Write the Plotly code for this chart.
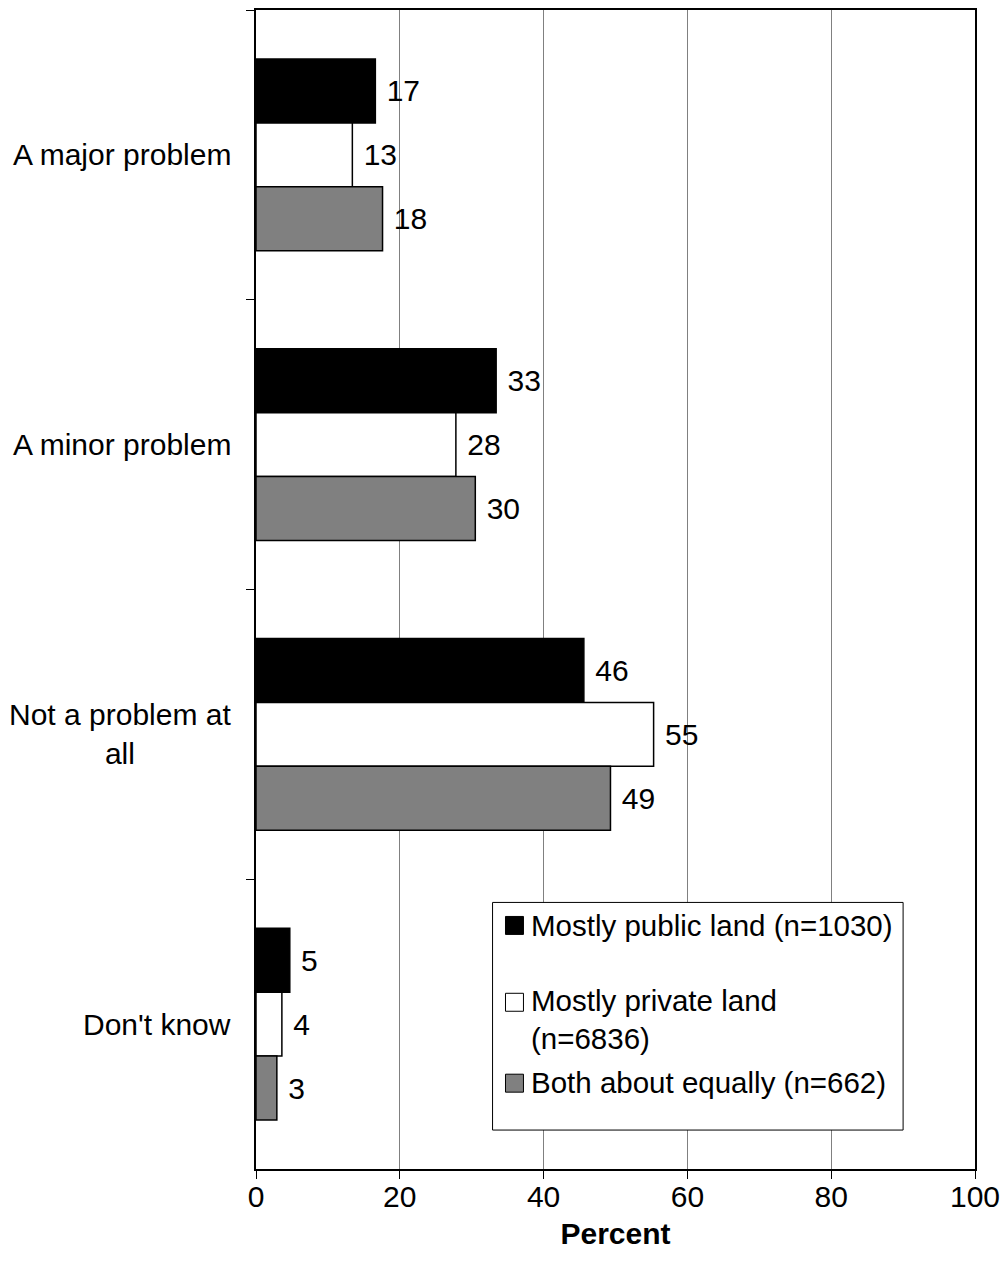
import plotly.graph_objects as go

# Survey categories, top to bottom
categories = ["A major problem", "A minor problem", "Not a problem at all", "Don't know"]
category_labels = ["A major problem", "A minor problem", "Not a problem at<br>all", "Don't know"]

# Series (percent)
series_names = ["Mostly public land (n=1030)", "Mostly private land<br>(n=6836)", "Both about equally (n=662)"]
public_vals = [16.6, 33.4, 45.6, 4.7]
private_vals = [13.4, 27.8, 55.3, 3.6]
both_vals = [17.6, 30.5, 49.3, 2.9]
public_labels = [17, 33, 46, 5]
private_labels = [13, 28, 55, 4]
both_labels = [18, 30, 49, 3]

x_ticks = [0, 20, 40, 60, 80, 100]

FONT = "Liberation Sans, Arial, sans-serif"
FS = 30
colors = ["#000000", "#ffffff", "#808080"]

fig = go.Figure()
for name, vals, labels, col in zip(series_names,
                                   [public_vals, private_vals, both_vals],
                                   [public_labels, private_labels, both_labels],
                                   colors):
    fig.add_trace(go.Bar(
        x=vals, y=categories, orientation="h", name=name,
        marker=dict(color=col, line=dict(color="black", width=1.5)),
        text=[str(v) for v in labels], texttemplate=" %{text}",
        textposition="outside", constraintext="none", cliponaxis=False,
        textfont=dict(family=FONT, size=FS, color="black"),
        showlegend=False,
    ))

# category labels, centred block, right-aligned to the axis
for cat, lab in zip(categories, category_labels):
    fig.add_annotation(x=-0.032, xref="paper", y=cat, yref="y", text=lab,
                       xanchor="right", yanchor="middle", align="center",
                       showarrow=False, font=dict(family=FONT, size=FS, color="black"))

# hand-drawn legend box
fig.add_shape(type="rect", xref="paper", yref="paper", x0=0.329, x1=0.9, y0=0.0336, y1=0.230,
              fillcolor="white", line=dict(color="black", width=1), layer="above")
sq_y = [(0.2179, 0.2024), (0.1516, 0.1361), (0.0818, 0.0663)]
txt_y = [0.2102, 0.1288, 0.0749]
for name, col, (ya, yb), ty in zip(series_names, colors, sq_y, txt_y):
    fig.add_shape(type="rect", xref="paper", yref="paper", x0=0.347, x1=0.372, y0=yb, y1=ya,
                  fillcolor=col, line=dict(color="black", width=1), layer="above")
    fig.add_annotation(x=0.379, xref="paper", y=ty, yref="paper", text=name,
                       xanchor="left", yanchor="middle", align="left", showarrow=False,
                       font=dict(family=FONT, size=FS - 0.5, color="black"))

fig.update_layout(
    width=1008, height=1277,
    margin=dict(l=256, r=29, t=8, b=108),
    paper_bgcolor="white", plot_bgcolor="white",
    barmode="group", bargap=0.338, bargroupgap=0,
    font=dict(family=FONT, size=FS, color="black"),
    showlegend=False,
)
fig.update_xaxes(
    range=[0, 100], tickvals=x_ticks, ticks="outside", ticklen=8, tickcolor="black",
    ticklabelstandoff=-8,
    showgrid=True, gridcolor="#808080", gridwidth=1, zeroline=False,
    showline=True, linecolor="black", linewidth=2, mirror=True,
    tickfont=dict(family=FONT, size=FS),
    title=dict(text="<b>Percent</b>", font=dict(family=FONT, size=FS), standoff=11),
)
fig.update_yaxes(
    categoryorder="array", categoryarray=categories, autorange="reversed",
    tickson="boundaries", ticks="outside", ticklen=8, tickcolor="black",
    showticklabels=False, showgrid=False, zeroline=False,
    showline=True, linecolor="black", linewidth=2, mirror=True,
)

# drop the default 8px body margin so the figure fills the window exactly
fig.write_html("out.html", config={"displayModeBar": False},
               post_script="document.body.style.margin = '0';")
